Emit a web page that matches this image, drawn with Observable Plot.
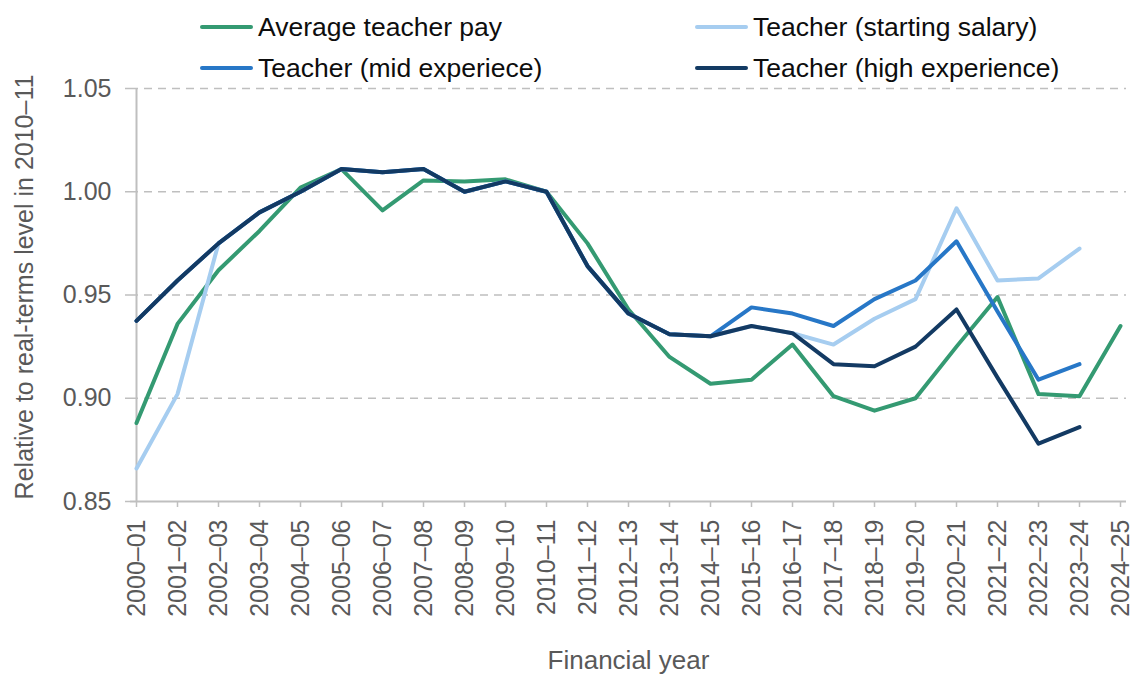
<!DOCTYPE html>
<html><head><meta charset="utf-8">
<script src="https://cdn.jsdelivr.net/npm/d3@7"></script>
<script src="https://cdn.jsdelivr.net/npm/@observablehq/plot@0.6"></script>
<style>
body{margin:0;background:#fff;font-family:"Liberation Sans",Arial,sans-serif;}
#wrap{width:1138px;}
#legend{position:relative;height:76px;width:1138px;}
.item{position:absolute;display:flex;align-items:center;font-size:26.5px;line-height:30px;color:#0d0d0d;white-space:nowrap;}
.sw{width:53px;height:4px;border-radius:2px;margin-right:5px;}
</style></head><body>
<div id="wrap"><div id="legend"></div><div id="chart"></div></div>
<script>
const years = ["2000–01","2001–02","2002–03","2003–04","2004–05","2005–06","2006–07","2007–08","2008–09","2009–10","2010–11","2011–12","2012–13","2013–14","2014–15","2015–16","2016–17","2017–18","2018–19","2019–20","2020–21","2021–22","2022–23","2023–24","2024–25"];
const avgPay =      [0.888, 0.936, 0.962, 0.981, 1.002, 1.011, 0.991, 1.0055, 1.005, 1.006, 1.000, 0.975, 0.943, 0.920, 0.907, 0.909, 0.926, 0.901, 0.894, 0.900, 0.925, 0.949, 0.902, 0.901, 0.935];
const startSalary = [0.866, 0.902, 0.975, 0.990, 1.000, 1.011, 1.0095, 1.011, 1.000, 1.005, 1.000, 0.964, 0.941, 0.931, 0.930, 0.935, 0.9315, 0.926, 0.9385, 0.948, 0.992, 0.957, 0.958, 0.9725, null];
const midExp =      [0.9375, 0.957, 0.975, 0.990, 1.000, 1.011, 1.0095, 1.011, 1.000, 1.005, 1.000, 0.964, 0.941, 0.931, 0.930, 0.944, 0.941, 0.935, 0.948, 0.957, 0.976, 0.942, 0.909, 0.9165, null];
const highExp =     [0.9375, 0.957, 0.975, 0.990, 1.000, 1.011, 1.0095, 1.011, 1.000, 1.005, 1.000, 0.964, 0.941, 0.931, 0.930, 0.935, 0.9315, 0.9165, 0.9155, 0.925, 0.943, 0.910, 0.878, 0.886, null];
const seriesNames = ["Average teacher pay","Teacher (starting salary)","Teacher (mid experiece)","Teacher (high experience)"];
const seriesColors = ["#349a72","#a6cdf0","#2777c7","#133a63"];
const yTicks = [0.85, 0.90, 0.95, 1.00, 1.05];
const yLabel = "Relative to real-terms level in 2010–11";
const xLabel = "Financial year";

const seriesValues = [avgPay, startSalary, midExp, highExp];
const data = [];
seriesNames.forEach((s, i) => seriesValues[i].forEach((v, j) => {
  if (v != null) data.push({year: years[j], value: v, series: s});
}));

// legend
const legendPos = [[200, 12], [695, 12], [200, 53], [695, 53]];
const legend = document.getElementById("legend");
seriesNames.forEach((s, i) => {
  const d = document.createElement("div");
  d.className = "item";
  d.style.left = legendPos[i][0] + "px";
  d.style.top = legendPos[i][1] + "px";
  const sw = document.createElement("span");
  sw.className = "sw";
  sw.style.background = seriesColors[i];
  d.appendChild(sw);
  d.appendChild(document.createTextNode(s));
  legend.appendChild(d);
});

const chart = Plot.plot({
  width: 1138, height: 599,
  marginTop: 12, marginBottom: 174, marginLeft: 130, marginRight: 12,
  style: {fontFamily: '"Liberation Sans", Arial, sans-serif', fontSize: "25px", color: "#595959", background: "#fff", overflow: "visible"},
  x: {type: "point", domain: years, padding: 0},
  y: {domain: [0.85, 1.05]},
  color: {domain: seriesNames, range: seriesColors},
  marks: [
    Plot.gridY(yTicks.filter(t => t > 0.85), {stroke: "#bfbfbf", strokeOpacity: 1, strokeWidth: 1.5, strokeDasharray: "8,6"}),
    Plot.ruleX([years[0]], {stroke: "#bfbfbf", strokeWidth: 2}),
    Plot.ruleY([0.85], {stroke: "#bfbfbf", strokeWidth: 2}),
    Plot.axisY(yTicks, {tickFormat: d => d.toFixed(2), tickSize: 5, tickPadding: 14, stroke: "#bfbfbf", strokeWidth: 1.5, fill: "#595959", label: null}),
    Plot.axisX({tickRotate: -90, tickSize: 6, tickPadding: 12, stroke: "#bfbfbf", strokeWidth: 1.5, fill: "#595959", label: null}),
    Plot.text([yLabel], {frameAnchor: "left", rotate: -90, dx: -106, dy: -8, fontSize: 25, fill: "#595959", textAnchor: "middle"}),
    Plot.text([xLabel], {frameAnchor: "bottom", dy: 167, fontSize: 26, fill: "#595959", textAnchor: "middle"}),
    Plot.line(data, {x: "year", y: "value", z: "series", stroke: "series", strokeWidth: 4})
  ]
});
document.getElementById("chart").appendChild(chart);
</script>
</body></html>
